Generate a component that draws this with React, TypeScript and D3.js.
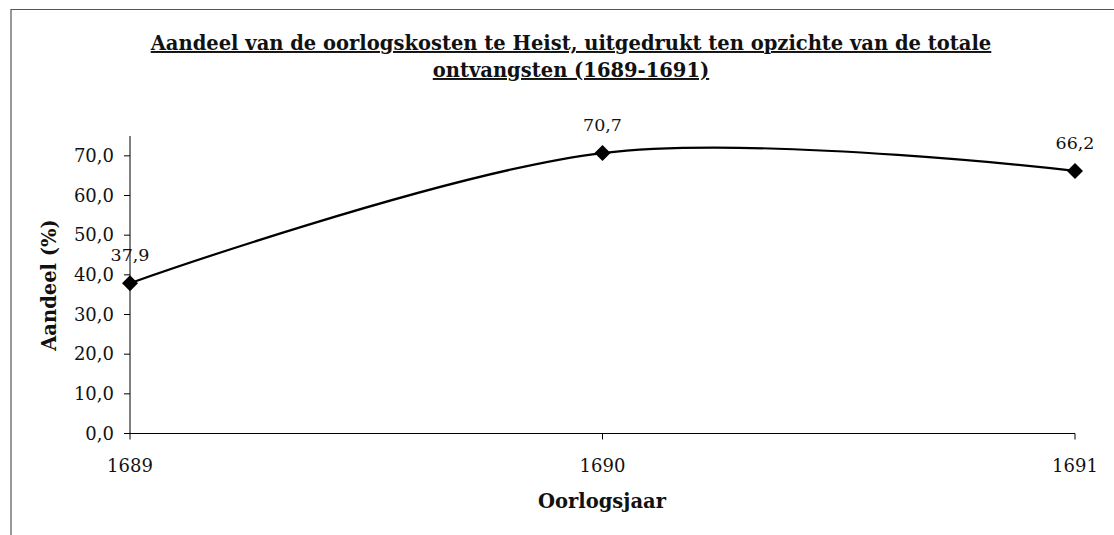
import React, { useMemo } from 'react';
import * as d3 from 'd3';

const years = ['1689', '1690', '1691'];
const shares = [37.9, 70.7, 66.2];
const yTicks = [0, 10, 20, 30, 40, 50, 60, 70];
const titleLines = [
  'Aandeel van de oorlogskosten te Heist, uitgedrukt ten opzichte van de totale',
  'ontvangsten (1689-1691)',
];

const fmt = (v: number) => v.toFixed(1).replace('.', ',');
const FONT = '"DejaVu Serif", Georgia, serif';

export default function App() {
  const chart = useMemo(() => {
    const width = 1114;
    const height = 535;
    const x = d3.scalePoint<string>().domain(years).range([130, 1075]);
    const y = d3.scaleLinear().domain([0, 75]).range([433.5, 136]);
    const line = d3
      .line<number>()
      .x((_, i) => x(years[i]) as number)
      .y((d) => y(d))
      .curve(d3.curveCardinal.tension(0));
    return { width, height, x, y, path: line(shares) ?? '' };
  }, []);

  const { x, y } = chart;
  const x0 = x(years[0]) as number;
  const xEnd = x(years[years.length - 1]) as number;

  return (
    <>
      <style>{'body{margin:0}'}</style>
      <svg width={chart.width} height={chart.height} style={{ display: 'block', background: '#fff' }}>
        {/* frame */}
        <path d={`M11,535 V9.5 H1114`} fill="none" stroke="#555" strokeWidth={1.2} />

        {titleLines.map((t, i) => (
          <text
            key={i}
            x={571}
            y={50 + i * 27}
            textAnchor="middle"
            fontFamily={FONT}
            fontWeight="bold"
            fontSize={19.5}
            textDecoration="underline"
            fill="#111"
          >
            {t}
          </text>
        ))}

        {/* y axis */}
        <line x1={x0} x2={x0} y1={y(75)} y2={y(0)} stroke="#000" />
        {yTicks.map((t) => (
          <g key={t}>
            <line x1={x0 - 6} x2={x0} y1={y(t)} y2={y(t)} stroke="#000" />
            <text x={x0 - 16} y={y(t) + 6} textAnchor="end" fontFamily={FONT} fontSize={18} fill="#111">
              {fmt(t)}
            </text>
          </g>
        ))}

        {/* x axis */}
        <line x1={x0} x2={xEnd} y1={y(0)} y2={y(0)} stroke="#000" />
        {years.map((yr) => (
          <g key={yr}>
            <line x1={x(yr)} x2={x(yr)} y1={y(0)} y2={y(0) + 6} stroke="#000" />
            <text x={x(yr)} y={472} textAnchor="middle" fontFamily={FONT} fontSize={18} fill="#111">
              {yr}
            </text>
          </g>
        ))}

        <text
          transform="translate(56,285) rotate(-90)"
          textAnchor="middle"
          fontFamily={FONT}
          fontWeight="bold"
          fontSize={19.5}
          fill="#111"
        >
          Aandeel (%)
        </text>
        <text x={602} y={508} textAnchor="middle" fontFamily={FONT} fontWeight="bold" fontSize={19.5} fill="#111">
          Oorlogsjaar
        </text>

        {/* series */}
        <path d={chart.path} fill="none" stroke="#000" strokeWidth={2.2} />
        {shares.map((v, i) => {
          const cx = x(years[i]) as number;
          const cy = y(v);
          return (
            <g key={years[i]}>
              <path d={`M${cx},${cy - 8}L${cx + 8},${cy}L${cx},${cy + 8}L${cx - 8},${cy}Z`} fill="#000" />
              <text x={cx} y={cy - 22} textAnchor="middle" fontFamily={FONT} fontSize={17.5} fill="#111">
                {fmt(v)}
              </text>
            </g>
          );
        })}
      </svg>
    </>
  );
}
